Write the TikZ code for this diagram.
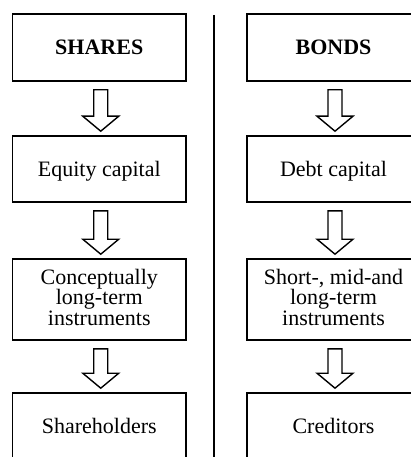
\documentclass[tikz,border=0pt]{standalone}
\usepackage{fontspec}
\setmainfont{Liberation Serif}
\usetikzlibrary{calc}
\tikzset{
  box/.style={draw=black, line width=1.6pt, minimum width=173.5pt, inner sep=0pt},
  txt/.style={inner sep=0pt, align=center, anchor=base,
    font=\fontsize{22}{20.7}\selectfont},
  blockarr/.style={draw=black, line width=1.4pt, fill=white, line join=miter},
  divider/.style={draw=black, line width=1.5pt}
}
\newcommand{\blockarrow}[2]{%
  \draw[blockarr] let \p1=(#1.south), \p2=(#2.north) in
    (\x1+1.5pt-7pt, \y1-8pt) -- (\x1+1.5pt+7pt, \y1-8pt) -- (\x1+1.5pt+7pt, \y2+19pt)
    -- (\x1+1.5pt+18pt, \y2+19pt) -- (\x1+1.5pt, \y2+4pt) -- (\x1+1.5pt-18pt, \y2+19pt)
    -- (\x1+1.5pt-7pt, \y2+19pt) -- cycle;}
\begin{document}
\begin{tikzpicture}[x=1pt, y=-1pt]
  \useasboundingbox (0,0) rectangle (411,457);
  \clip (0,0) rectangle (411,457);
  \fill[white] (0,0) rectangle (411,457);
  % left column
  \node[box, minimum height=67pt] (sh) at (99.25,47.5) {};
  \node[box, minimum height=66pt] (eq) at (99.25,169) {};
  \node[box, minimum height=81pt] (co) at (99.25,299.5) {};
  \node[box, minimum height=68pt] (ho) at (99.25,427) {};
  \node[txt] (tsh) at (99.25,55) {\textbf{SHARES}};
  \node[txt] (teq) at (99.25,176.5) {Equity capital};
  \node[txt] (tco) at (99.25,325.5) {Conceptually\\long-term\\instruments};
  \node[txt] (tho) at (99.25,433) {Shareholders};
  % right column
  \node[box, minimum height=67pt] (bo) at (333.5,47.5) {};
  \node[box, minimum height=66pt] (de) at (333.5,169) {};
  \node[box, minimum height=81pt] (st) at (333.5,299.5) {};
  \node[box, minimum height=68pt] (cr) at (333.5,427) {};
  \node[txt] (tbo) at (333.5,55) {\textbf{BONDS}};
  \node[txt] (tde) at (333.5,176.5) {Debt capital};
  \node[txt] (tst) at (333.5,325.5) {Short-, mid-and\\long-term\\instruments};
  \node[txt] (tcr) at (333.5,433) {Creditors};
  % divider
  \coordinate (dtop) at (214,15);
  \coordinate (dbot) at (214,460);
  \draw[divider] (dtop) -- (dbot);
  % arrows
  \blockarrow{sh}{eq}
  \blockarrow{eq}{co}
  \blockarrow{co}{ho}
  \blockarrow{bo}{de}
  \blockarrow{de}{st}
  \blockarrow{st}{cr}
\end{tikzpicture}
\end{document}
